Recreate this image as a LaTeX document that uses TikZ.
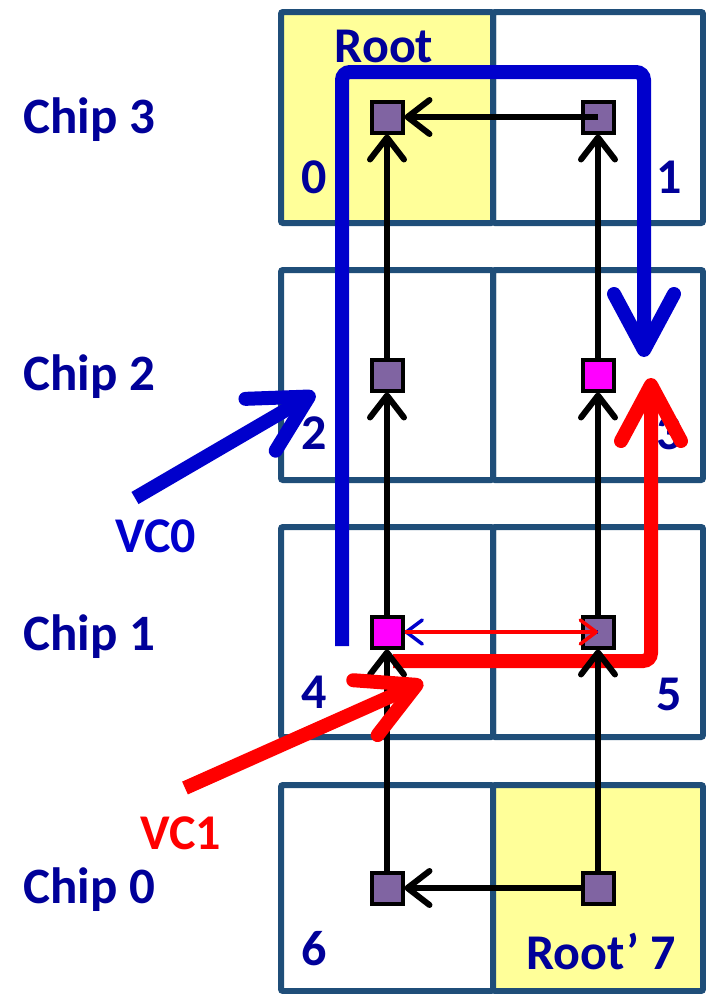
\documentclass[tikz,border=0pt]{standalone}
\usepackage{fontspec}
\setmainfont{Carlito}
\usetikzlibrary{arrows.meta,positioning}
\definecolor{cellblue}{RGB}{31,78,121}
\definecolor{cellyellow}{RGB}{255,255,153}
\definecolor{routerpurple}{RGB}{128,100,162}
\definecolor{hotpink}{RGB}{255,0,255}
\definecolor{labelblue}{RGB}{0,0,153}
\definecolor{vcblue}{RGB}{0,0,204}
\definecolor{vcred}{RGB}{255,0,0}

\begin{document}
\begin{tikzpicture}[x=1pt,y=-1pt,
            cell/.style={draw=cellblue, line width=6pt, rounded corners=2pt},
            root_cell/.style={cell, fill=cellyellow},
            router/.style={rectangle, draw=black, line width=4pt, fill=routerpurple, minimum size=31pt, inner sep=0pt},
            hot_router/.style={router, fill=hotpink},
            link/.style={line width=6pt, -{Straight Barb[length=22pt,width=34pt,round]}},
            thin_link/.style={line width=3.5pt, -{Straight Barb[length=16pt,width=24pt,round]}},
            vc_path/.style={line width=14pt, rounded corners=8pt, -{Straight Barb[length=56pt,width=60pt,round]}},
            chip_label/.style={anchor=west, font=\fontsize{51}{60}\selectfont\bfseries, text=labelblue},
            num_label/.style={font=\fontsize{50}{60}\selectfont\bfseries, text=labelblue}
        ]
            \useasboundingbox (0,0) rectangle (706,994);
            % chips, two cells each
            \draw[root_cell] (281,12) rectangle (493,223);
            \draw[cell] (493,12) rectangle (703,223);
            \draw[cell] (281,270) rectangle (493,480);
            \draw[cell] (493,270) rectangle (703,480);
            \draw[cell] (281,527) rectangle (493,737);
            \draw[cell] (493,527) rectangle (703,737);
            \draw[cell] (281,785) rectangle (493,991);
            \draw[root_cell] (493,785) rectangle (703,991);

            % chip names
            \node[chip_label] (chip3) at (20,120) {Chip 3};
            \node[chip_label] (chip2) at (20,377) {Chip 2};
            \node[chip_label] (chip1) at (20,637) {Chip 1};
            \node[chip_label] (chip0) at (20,890) {Chip 0};

            % cell numbers
            \node[num_label] (root) at (384,46) {Root};
            \node[num_label] (l0) at (314,177) {0};
            \node[num_label] (l1) at (669,177) {1};
            \node[num_label] (l2) at (314,433) {2};
            \node[num_label] (l3) at (669,433) {3};
            \node[num_label] (l4) at (314,692) {4};
            \node[num_label] (l5) at (669,694) {5};
            \node[num_label] (l6) at (314,949) {6};
            \node[num_label] (l7) at (601,951) {Root’ 7};

            % virtual channel routes
            \draw[vc_path, vcblue] (342,646) -- (342,72) -- (644,72) -- (644,357);
            \draw[vc_path, vcred] (393,661) -- (651,661) -- (651,378);

            % routers
            \node[router] (n0) at (387,117) {};
            \node[router] (n1) at (598,117) {};
            \node[router] (n2) at (387,375) {};
            \node[hot_router] (n3) at (598,375) {};
            \node[hot_router] (n4) at (387,632) {};
            \node[router] (n5) at (598,632) {};
            \node[router] (n6) at (387,888) {};
            \node[router] (n7) at (598,888) {};

            % tree links
            \draw[link] (n6) -- (n4);
            \draw[link] (n4) -- (n2);
            \draw[link] (n2) -- (n0);
            \draw[link] (n7) -- (n5);
            \draw[link] (n5) -- (n3);
            \draw[link] (n3) -- (n1);
            \draw[link] (n1.center) -- (n0);
            \draw[link] (n7) -- (n6);

            % escape link between 4 and 5
            \draw[thin_link, vcblue] (n5.center) -- (n4);
            \draw[thin_link, vcred] (n4) -- (n5.center);

            % injection arrows
            \coordinate (vc0_in) at (135,498);
            \coordinate (vc1_in) at (185,788);
            \draw[vc_path, vcblue] (vc0_in) -- (315,393);
            \draw[vc_path, vcred] (vc1_in) -- (423,682);
            \node[num_label, text=vcblue] (vc0) at (156,536) {VC0};
            \node[num_label, text=vcred] (vc1) at (181,833) {VC1};
        \end{tikzpicture}
\end{document}
